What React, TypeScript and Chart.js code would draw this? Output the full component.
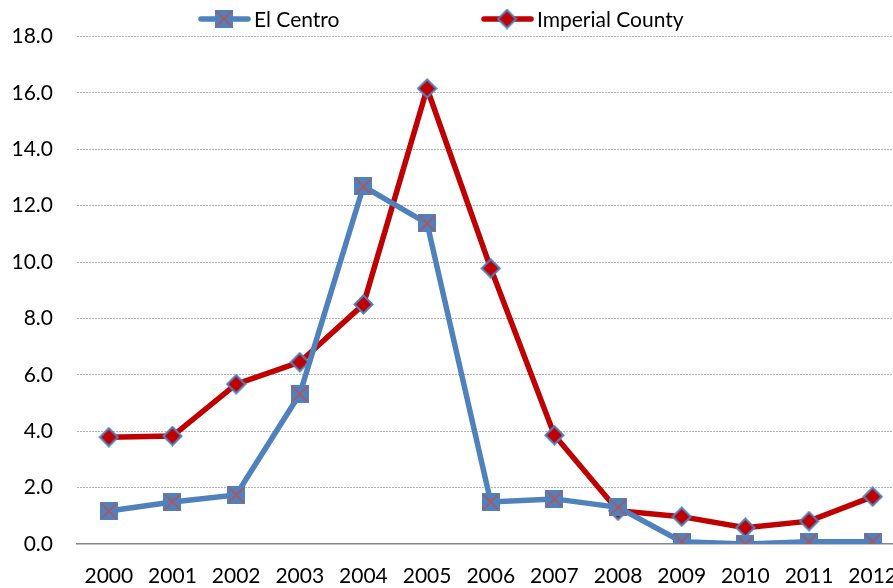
import React, { useEffect, useRef } from "react";
import { Chart, registerables } from "chart.js";

Chart.register(...registerables);

const years = ["2000", "2001", "2002", "2003", "2004", "2005", "2006", "2007", "2008", "2009", "2010", "2011", "2012"];
const elCentro = [1.17, 1.49, 1.74, 5.32, 12.69, 11.37, 1.49, 1.6, 1.3, 0.08, 0.0, 0.08, 0.08];
const imperialCounty = [3.79, 3.83, 5.67, 6.45, 8.5, 16.16, 9.78, 3.86, 1.18, 0.97, 0.58, 0.81, 1.68];
const seriesNames = ["El Centro", "Imperial County"];
const yMin = 0;
const yMax = 18;
const yStep = 2;

const BLUE = "#4F81BD";
const RED = "#C00000";
const XRED = "#C0504D";
const FONT = "Lato, 'Noto Sans', sans-serif";

function makeSquareX(size: number): HTMLCanvasElement {
  const c = document.createElement("canvas");
  c.width = size;
  c.height = size;
  const g = c.getContext("2d")!;
  g.fillStyle = BLUE;
  g.fillRect(0, 0, size, size);
  g.strokeStyle = XRED;
  g.lineWidth = 1.6;
  g.beginPath();
  g.moveTo(1.5, 1.5);
  g.lineTo(size - 1.5, size - 1.5);
  g.moveTo(size - 1.5, 1.5);
  g.lineTo(1.5, size - 1.5);
  g.stroke();
  return c;
}

function makeDiamond(size: number): HTMLCanvasElement {
  const c = document.createElement("canvas");
  c.width = size;
  c.height = size;
  const g = c.getContext("2d")!;
  const h = size / 2;
  g.beginPath();
  g.moveTo(h, 1.5);
  g.lineTo(size - 1.5, h);
  g.lineTo(h, size - 1.5);
  g.lineTo(1.5, h);
  g.closePath();
  g.fillStyle = RED;
  g.fill();
  g.strokeStyle = BLUE;
  g.lineWidth = 2;
  g.stroke();
  return c;
}

export default function App() {
  const ref = useRef<HTMLCanvasElement | null>(null);

  useEffect(() => {
    if (!ref.current) return;
    const sq = makeSquareX(18);
    const dm = makeDiamond(21);
    const legendMarkers = [sq, dm];
    const colors = [BLUE, RED];

    const legendPlugin = {
      id: "customLegend",
      afterDraw(chart: any) {
        const ctx = chart.ctx as CanvasRenderingContext2D;
        const y = 19;
        const starts = [199, 482];
        ctx.save();
        seriesNames.forEach((name, i) => {
          const x0 = starts[i];
          ctx.strokeStyle = colors[i];
          ctx.lineWidth = 5.5;
          ctx.lineCap = "round";
          ctx.beginPath();
          ctx.moveTo(x0 + 2, y);
          ctx.lineTo(x0 + 49, y);
          ctx.stroke();
          const m = legendMarkers[i];
          ctx.drawImage(m, x0 + 25 - m.width / 2, y - m.height / 2);
          ctx.fillStyle = "#000";
          ctx.font = `21px ${FONT}`;
          ctx.textBaseline = "middle";
          ctx.textAlign = "left";
          ctx.fillText(name, x0 + 55, y + 1);
        });
        ctx.restore();
      },
    };

    const chart = new Chart(ref.current, {
      type: "line",
      data: {
        labels: years,
        datasets: [
          {
            label: seriesNames[0],
            data: elCentro,
            borderColor: BLUE,
            backgroundColor: BLUE,
            borderWidth: 5.5,
            pointStyle: sq as any,
            pointRadius: 9,
            tension: 0,
          },
          {
            label: seriesNames[1],
            data: imperialCounty,
            borderColor: RED,
            backgroundColor: RED,
            borderWidth: 5.5,
            pointStyle: dm as any,
            pointRadius: 10,
            tension: 0,
          },
        ],
      },
      options: {
        animation: false,
        responsive: false,
        maintainAspectRatio: false,
        layout: { padding: { top: 36, left: 0, right: 0, bottom: 0 } },
        plugins: {
          legend: { display: false },
          tooltip: { enabled: false },
        },
        scales: {
          x: {
            offset: true,
            grid: { display: false, drawTicks: false },
            border: { display: true, color: "#868686", width: 1.5 },
            ticks: {
              padding: 20,
              color: "#000",
              font: { family: FONT, size: 21 },
              maxRotation: 0,
              autoSkip: false,
            },
            afterFit(scale: any) {
              scale.height = 56;
            },
          },
          y: {
            min: yMin,
            max: yMax,
            grid: {
              drawTicks: false,
              color: (c: any) => (c.tick && c.tick.value === 0 ? "rgba(0,0,0,0)" : "#B4B4B4"),
              lineWidth: 1,
            },
            border: { display: false, dash: [2, 1] },
            ticks: {
              stepSize: yStep,
              padding: 24,
              color: "#000",
              font: { family: FONT, size: 21 },
              callback: (v: any) => Number(v).toFixed(1),
            },
            afterFit(scale: any) {
              scale.width = 77;
            },
          },
        },
      },
      plugins: [legendPlugin],
    });
    return () => chart.destroy();
  }, []);

  return (
    <div
      style={{
        position: "fixed",
        left: 0,
        top: 0,
        width: 893,
        height: 588,
        overflow: "hidden",
        background: "#fff",
      }}
    >
      <canvas ref={ref} width={920} height={600} style={{ width: 920, height: 600, display: "block" }} />
    </div>
  );
}
